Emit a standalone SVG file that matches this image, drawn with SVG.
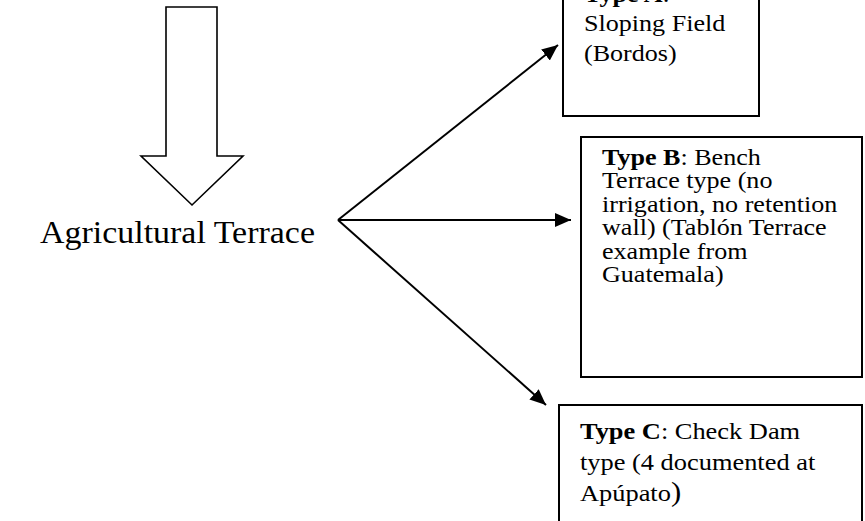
<svg xmlns="http://www.w3.org/2000/svg" width="865" height="521" viewBox="0 0 865 521">
<style>
  text { font-family: "Liberation Serif", "Times New Roman", serif; fill: #000; }
  .box { fill: #fff; stroke: #000; stroke-width: 2; }
  .conn { stroke: #000; stroke-width: 2; fill: none; }
  .lbl { font-size: 23.5px; }
  .b { font-weight: bold; }
</style>
<defs>
  <marker id="ah" markerUnits="userSpaceOnUse" markerWidth="18" markerHeight="16" refX="16" refY="7" orient="auto">
    <path d="M0,0 L16,7 L0,14 z" fill="#000"/>
  </marker>
</defs>
<rect width="865" height="521" fill="#fff"/>

<g id="hollow-arrow">
  <polygon points="166,7 217,7 217,156 243,156 192,205 141,156 166,156" fill="#fff" stroke="#000" stroke-width="1.6"/>
</g>

<g id="agricultural-terrace">
  <text transform="translate(40,243) scale(1.095,1)" font-size="31">Agricultural Terrace</text>
</g>

<g id="connectors">
  <line class="conn" x1="338" y1="220" x2="558" y2="45" marker-end="url(#ah)"/>
  <line class="conn" x1="338" y1="220" x2="571" y2="220" marker-end="url(#ah)"/>
  <line class="conn" x1="338" y1="220" x2="546" y2="405" marker-end="url(#ah)"/>
</g>

<g id="type-a">
  <rect class="box" x="563" y="-10" width="196" height="126"/>
  <text class="lbl" transform="translate(584,2) scale(1.11,1)">
    <tspan x="0" y="0"><tspan class="b">Type A</tspan>:</tspan>
    <tspan x="0" y="29.5">Sloping Field</tspan>
    <tspan x="0" y="59">(Bordos)</tspan>
  </text>
</g>

<g id="type-b">
  <rect class="box" x="581" y="137" width="281" height="240"/>
  <text class="lbl" transform="translate(602,165) scale(1.11,1)">
    <tspan x="0" y="0"><tspan class="b">Type B</tspan>: Bench</tspan>
    <tspan x="0" y="23.4">Terrace type (no</tspan>
    <tspan x="0" y="46.8">irrigation, no retention</tspan>
    <tspan x="0" y="70.2">wall) (Tablón Terrace</tspan>
    <tspan x="0" y="93.6">example from</tspan>
    <tspan x="0" y="117">Guatemala)</tspan>
  </text>
</g>

<g id="type-c">
  <rect class="box" x="559" y="405" width="303" height="130"/>
  <text transform="translate(580,439) scale(1.1,1)" font-size="24">
    <tspan x="0" y="0"><tspan class="b">Type C</tspan>: Check Dam</tspan>
    <tspan x="0" y="31">type (4 documented at</tspan>
    <tspan x="0" y="62">Apúpato<tspan font-size="28">)</tspan></tspan>
  </text>
</g>
</svg>
